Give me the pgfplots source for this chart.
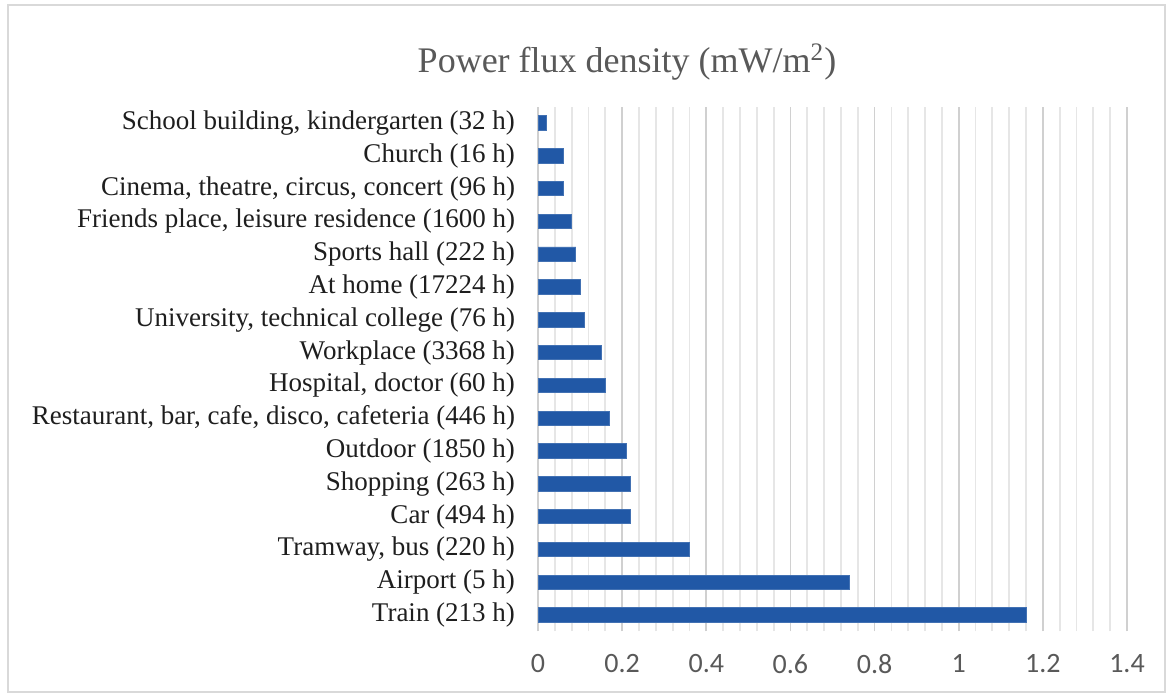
\documentclass[border=0pt]{standalone}
\usepackage{fontspec}
\setmainfont{Liberation Serif}
\newfontfamily\calibri{Carlito}
\usepackage{pgfplots}
\pgfplotsset{compat=1.18}
\definecolor{barblue}{RGB}{33,88,166}
\definecolor{majgrid}{RGB}{208,208,208}
\definecolor{mingrid}{RGB}{230,230,230}
\definecolor{txtgray}{RGB}{89,89,89}
\begin{document}
\begin{tikzpicture}[x=1bp,y=1bp]
\path[use as bounding box] (0,0) rectangle (585,348.5);
\draw[draw={rgb,255:red,217;green,217;blue,217},line width=0.9bp] (4,2.5) rectangle (582.5,346);
\node[text=txtgray,font=\fontsize{18bp}{21bp}\selectfont] at (313.5,317.5) {Power flux density (mW/m\textsuperscript{2})};
\begin{axis}[
  at={(269bp,32.8bp)}, anchor=south west,
  scale only axis, width=294.5bp, height=262.4bp,
  xmin=0, xmax=1.4, ymin=-0.5, ymax=15.5,
  xtick={0,0.2,...,1.4},
  minor x tick num=4,
  xmajorgrids, xminorgrids,
  major grid style={majgrid,line width=0.9bp},
  minor grid style={mingrid,line width=0.9bp},
  axis line style={draw=none},
  major tick length=0pt, minor tick length=0pt,
  ytick={0,...,15},
  yticklabels={Train (213 h),Airport (5 h),{Tramway, bus (220 h)},Car (494 h),Shopping (263 h),Outdoor (1850 h),{Restaurant, bar, cafe, disco, cafeteria (446 h)},{Hospital, doctor (60 h)},Workplace (3368 h),{University, technical college (76 h)},At home (17224 h),Sports hall (222 h),{Friends place, leisure residence (1600 h)},{Cinema, theatre, circus, concert (96 h)},Church (16 h),{School building, kindergarten (32 h)}},
  yticklabel style={font=\fontsize{13.5bp}{15bp}\selectfont, text={rgb,255:red,30;green,30;blue,30}, xshift=-8bp},
  xticklabel style={font=\calibri\fontsize{14bp}{16bp}\selectfont, text=txtgray, yshift=-8bp},
  /pgf/number format/assume math mode=true,
  xticklabel={\pgfmathprintnumber[assume math mode=true]{\tick}},
  xbar, bar width=7.2bp,
  clip=false,
]
\addplot[fill=barblue, draw=barblue!85!white, line width=0.4bp] coordinates {
(1.16,0) (0.74,1) (0.36,2) (0.22,3) (0.22,4) (0.21,5) (0.17,6) (0.16,7)
(0.15,8) (0.11,9) (0.10,10) (0.09,11) (0.08,12) (0.06,13) (0.06,14) (0.02,15)
};
\end{axis}
\end{tikzpicture}
\end{document}
